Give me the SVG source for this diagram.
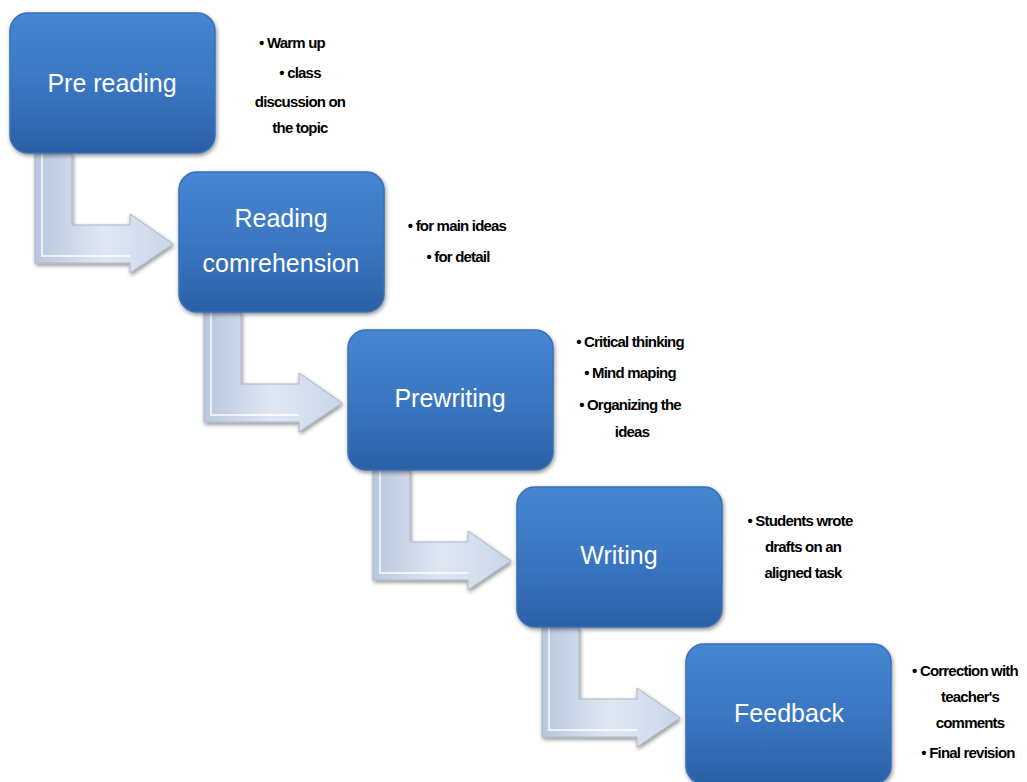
<svg xmlns="http://www.w3.org/2000/svg" width="1027" height="782" viewBox="0 0 1027 782">
<defs>
<linearGradient id="boxg" x1="0" y1="0" x2="0" y2="1">
<stop offset="0" stop-color="#4686d2"/>
<stop offset="0.5" stop-color="#3a77c3"/>
<stop offset="1" stop-color="#2b60a6"/>
</linearGradient>
<linearGradient id="arrg" x1="0" y1="0" x2="1" y2="0">
<stop offset="0" stop-color="#b9c8de"/>
<stop offset="0.5" stop-color="#dfe7f3"/>
<stop offset="1" stop-color="#c9d6e9"/>
</linearGradient>
<filter id="sh" x="-10%" y="-10%" width="130%" height="130%">
<feGaussianBlur in="SourceAlpha" stdDeviation="2"/>
<feOffset dx="1" dy="2" result="b"/>
<feComponentTransfer><feFuncA type="linear" slope="0.45"/></feComponentTransfer>
<feMerge><feMergeNode/><feMergeNode in="SourceGraphic"/></feMerge>
</filter>
<g id="arrow">
<path d="M35,0 H72 V72 H130 V61 L173,91 L130,120 V110 H35 Z" fill="url(#arrg)" stroke="#a9b6c9" stroke-width="1" filter="url(#sh)"/>
<path d="M42,0 V103 H130" fill="none" stroke="#ffffff" stroke-opacity="0.7" stroke-width="2"/>
</g>
</defs>
<style>
.box{fill:url(#boxg);stroke:#3a70b5;stroke-width:1.5;filter:url(#sh)}
.lbl{font-family:"Liberation Sans",Arial,sans-serif;font-size:25px;fill:#ffffff;text-anchor:middle}
.note{font-family:"Liberation Sans",Arial,sans-serif;font-size:15px;font-weight:bold;fill:#000000;text-anchor:middle;letter-spacing:-0.8px}
</style>
<g id="connectors">
<use href="#arrow" transform="translate(0,153)"/>
<use href="#arrow" transform="translate(169,312)"/>
<use href="#arrow" transform="translate(338,470)"/>
<use href="#arrow" transform="translate(507,627)"/>
</g>
<g id="node-prereading">
<rect class="box" x="10" y="13" width="205" height="140" rx="18"/>
<text class="lbl" x="112" y="92">Pre reading</text>
<text class="note" x="292" y="48">• Warm  up</text>
<text class="note" x="300" y="78">• class</text>
<text class="note" x="300" y="107">discussion on</text>
<text class="note" x="300" y="133">the topic</text>
</g>
<g id="node-reading">
<rect class="box" x="179" y="172" width="205" height="140" rx="18"/>
<text class="lbl" x="281" y="227">Reading</text>
<text class="lbl" x="281" y="272">comrehension</text>
<text class="note" x="457" y="231">• for main ideas</text>
<text class="note" x="458" y="262">• for detail</text>
</g>
<g id="node-prewriting">
<rect class="box" x="348" y="330" width="205" height="140" rx="18"/>
<text class="lbl" x="450" y="407">Prewriting</text>
<text class="note" x="630" y="347">• Critical thinking</text>
<text class="note" x="630" y="378">• Mind maping</text>
<text class="note" x="630" y="410">• Organizing the</text>
<text class="note" x="632" y="437">ideas</text>
</g>
<g id="node-writing">
<rect class="box" x="517" y="487" width="205" height="140" rx="18"/>
<text class="lbl" x="619" y="564">Writing</text>
<text class="note" x="800" y="526">• Students wrote</text>
<text class="note" x="803" y="552">drafts on an</text>
<text class="note" x="803" y="578">aligned task</text>
</g>
<g id="node-feedback">
<rect class="box" x="686" y="644" width="205" height="140" rx="18"/>
<text class="lbl" x="789" y="722">Feedback</text>
<text class="note" x="965" y="676">• Correction with</text>
<text class="note" x="970" y="702">teacher's</text>
<text class="note" x="970" y="728">comments</text>
<text class="note" x="968" y="758">• Final revision</text>
</g>
</svg>
